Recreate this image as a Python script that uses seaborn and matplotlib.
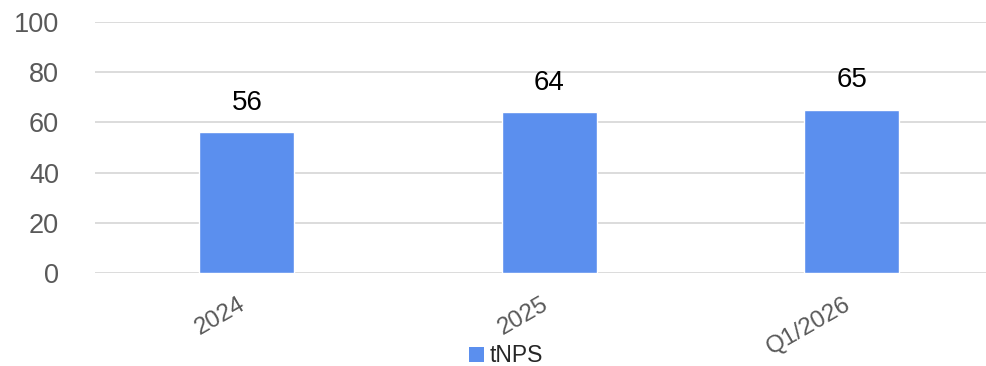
import matplotlib
matplotlib.use("Agg")
import matplotlib.pyplot as plt
import seaborn as sns
import pandas as pd
from matplotlib.patches import Patch

categories = ["2024", "2025", "Q1/2026"]
tnps_values = [56, 64, 65]
y_ticks = [0, 20, 40, 60, 80, 100]
series_name = "tNPS"

bar_color = "#5B8FEE"
grid_color = "#D9D9D9"
tick_color = "#595959"

sns.set_theme(style="white")
plt.rcParams["font.family"] = ["Liberation Sans", "DejaVu Sans"]

df = pd.DataFrame({"period": categories, "score": tnps_values})

fig = plt.figure(figsize=(9.86, 3.66), dpi=100)
ax = fig.add_axes([95 / 986, (366 - 273) / 366, (986 - 95) / 986, (273 - 22) / 366])

sns.barplot(data=df, x="period", y="score", color=bar_color, width=0.314,
            saturation=1, ax=ax, zorder=3)

ax.set_ylim(0, 100)
ax.set_xlim(-0.502, 2.443)
ax.set_yticks(y_ticks)
ax.set_yticklabels([str(t) for t in y_ticks], fontsize=19.5, color=tick_color)
ax.tick_params(axis="y", length=0, pad=26)
ax.tick_params(axis="x", length=0, pad=25)
for lbl in ax.get_xticklabels():
    lbl.set_rotation(30)
    lbl.set_ha("right")
    lbl.set_va("baseline")
    lbl.set_rotation_mode("anchor")
    lbl.set_fontsize(17.5)
    lbl.set_color(tick_color)

ax.set_xlabel("")
ax.set_ylabel("")
for s in ax.spines.values():
    s.set_visible(False)
ax.yaxis.grid(True, color=grid_color, linewidth=1.3, zorder=0)
ax.xaxis.grid(False)
ax.set_axisbelow(True)

for patch, val in zip(ax.patches, tnps_values):
    ax.annotate(str(val), (patch.get_x() + patch.get_width() / 2, patch.get_height()),
                xytext=(0, 12), textcoords="offset points", ha="center", va="bottom",
                fontsize=20, color="black")

handle = Patch(facecolor=bar_color, edgecolor="none", label=series_name)
fig.legend(handles=[handle], loc="center", bbox_to_anchor=(506 / 986, 1 - 356 / 366),
           frameon=False, fontsize=16.5, handlelength=0.65, handleheight=0.65,
           handletextpad=0.28, borderaxespad=0, borderpad=0)

fig.savefig("out.png", dpi=100)
